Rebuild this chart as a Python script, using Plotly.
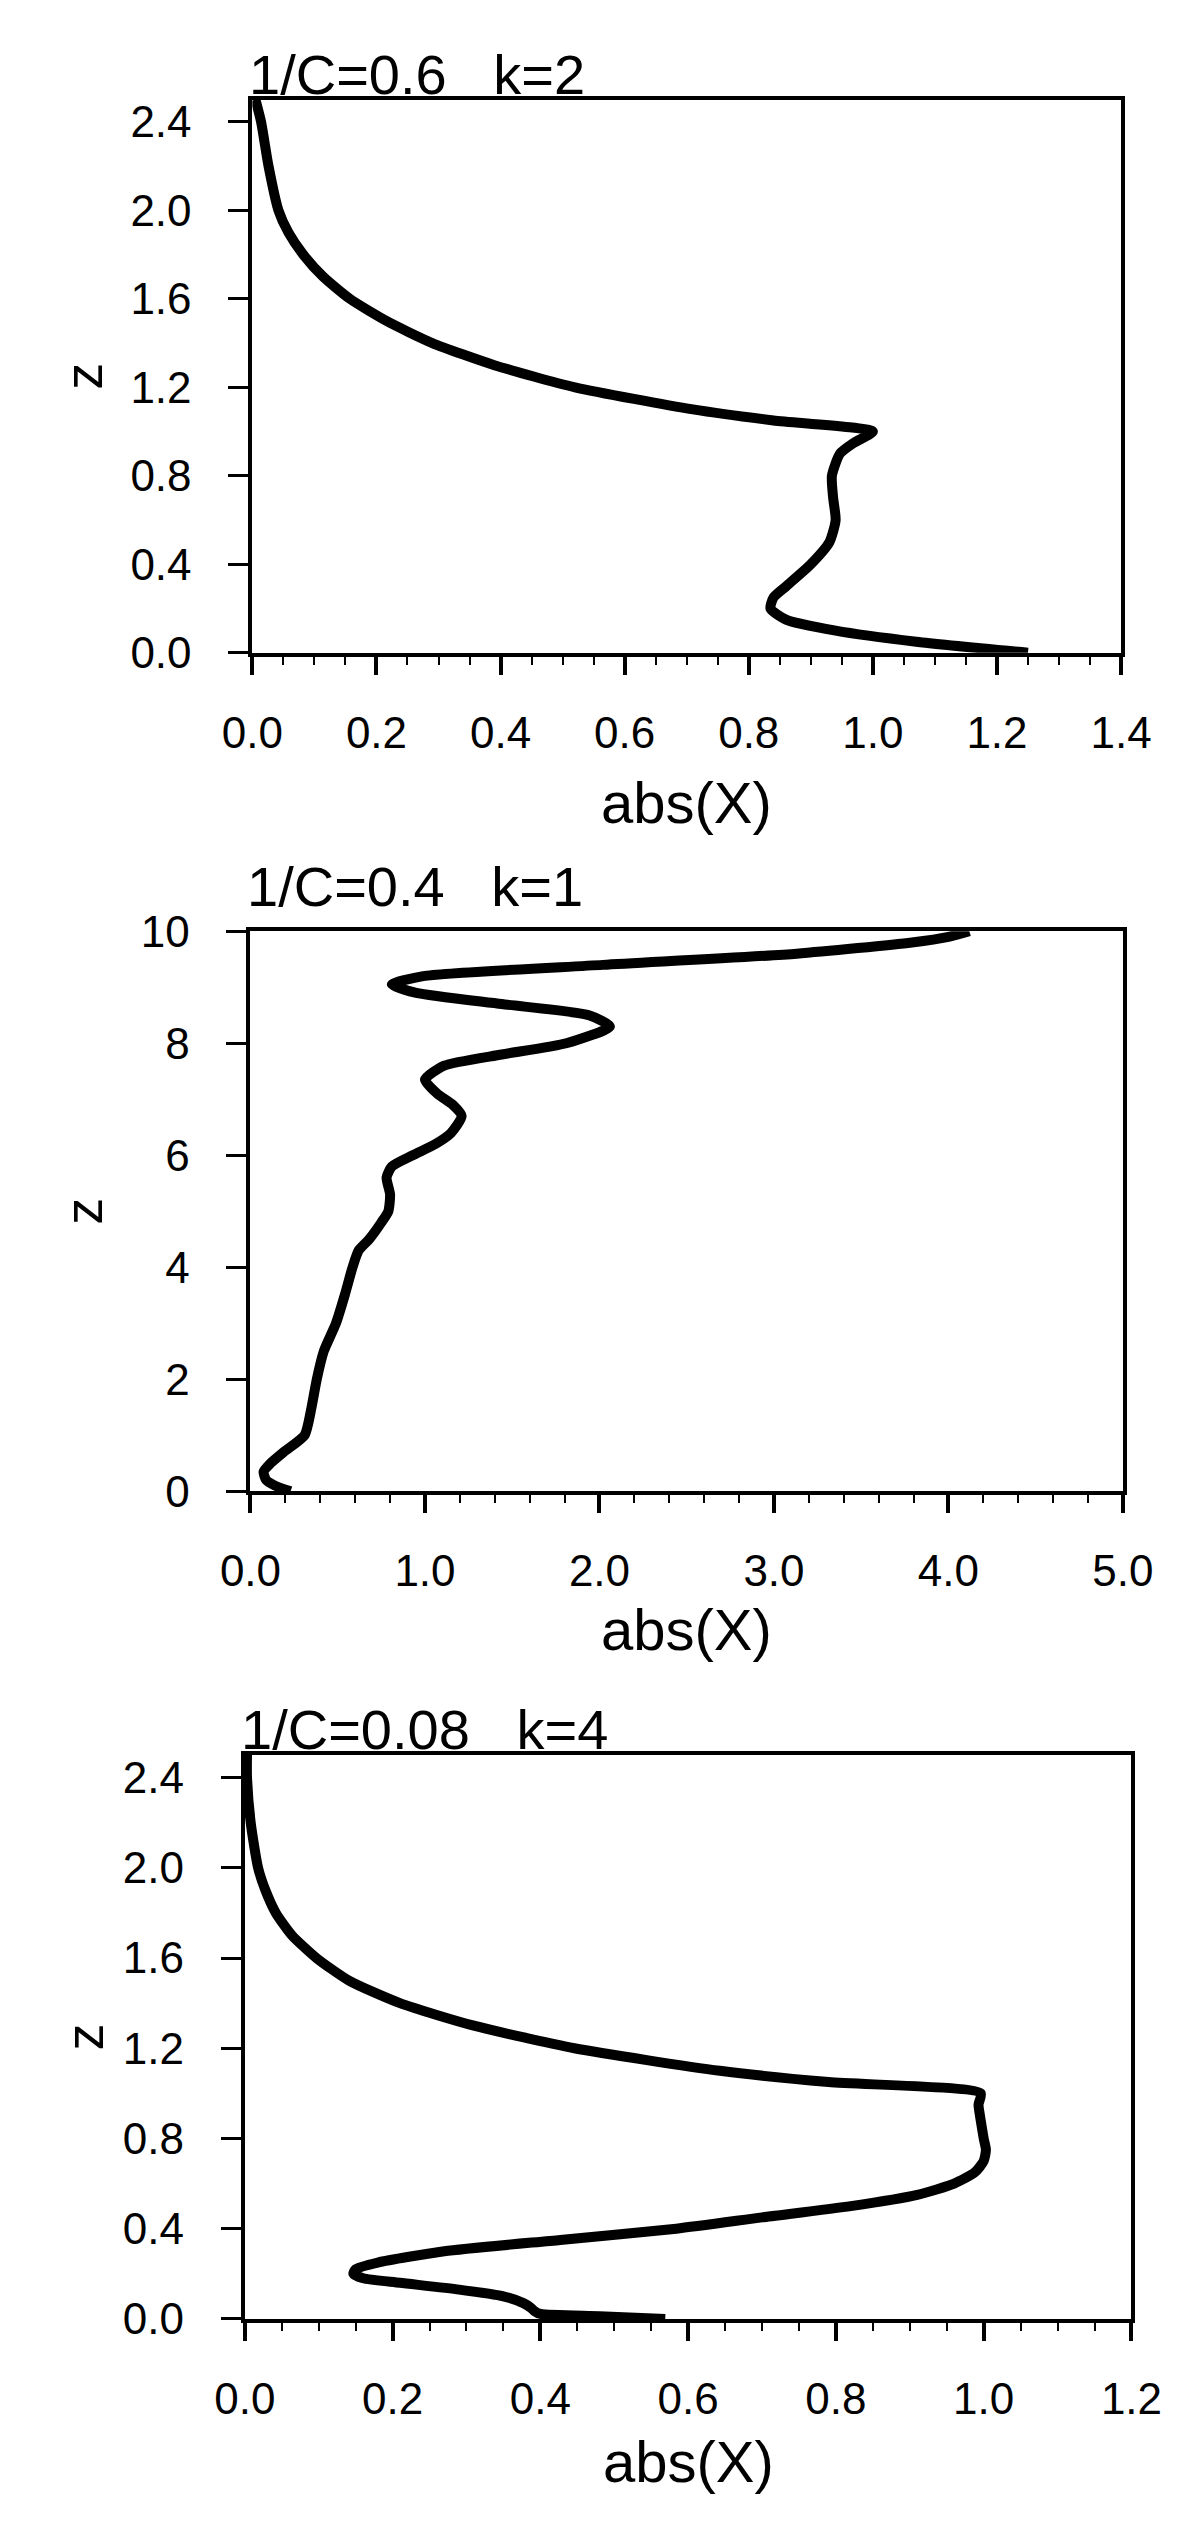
import plotly.graph_objects as go

W, H = 1200, 2533

# panel 1: 1/C=0.6, k=2
z1 = [2.5, 2.4, 2.2, 2.0, 1.9, 1.8, 1.7, 1.6, 1.5, 1.4, 1.3, 1.2, 1.1, 1.05, 1.0,
      0.95, 0.9, 0.8, 0.7, 0.6, 0.5, 0.4, 0.3, 0.25, 0.2, 0.15, 0.1, 0.05, 0.0]
x1 = [0.005, 0.014, 0.026, 0.042, 0.058, 0.082, 0.114, 0.157, 0.216, 0.29, 0.39, 0.52, 0.71, 0.84, 1.0,
      0.97, 0.947, 0.934, 0.936, 0.94, 0.93, 0.90, 0.86, 0.84, 0.835, 0.86, 0.94, 1.07, 1.25]

# panel 2: 1/C=0.4, k=1
z2 = [0.0, 0.1, 0.2, 0.35, 0.5, 0.7, 1.0, 1.5, 2.0, 2.5, 3.0, 3.5, 4.0, 4.3, 4.5, 4.8,
      5.0, 5.3, 5.6, 5.8, 6.0, 6.2, 6.4, 6.7, 6.9, 7.1, 7.35, 7.6, 7.8, 8.0, 8.3, 8.5,
      8.7, 8.9, 9.05, 9.2, 9.4, 9.6, 9.8, 9.9, 10.0]
x2 = [0.23, 0.14, 0.09, 0.075, 0.115, 0.19, 0.31, 0.35, 0.38, 0.42, 0.49, 0.54, 0.585, 0.62, 0.68, 0.75,
      0.79, 0.80, 0.78, 0.81, 0.93, 1.06, 1.15, 1.21, 1.16, 1.07, 1.0, 1.11, 1.44, 1.81, 2.06, 1.94,
      1.44, 0.95, 0.81, 0.99, 2.02, 3.13, 3.79, 4.0, 4.12]

# panel 3: 1/C=0.08, k=4
z3 = [2.5, 2.4, 2.2, 2.0, 1.9, 1.8, 1.7, 1.6, 1.5, 1.4, 1.3, 1.2, 1.1, 1.05, 1.0,
      0.95, 0.9, 0.8, 0.75, 0.7, 0.65, 0.6, 0.55, 0.5, 0.45, 0.4, 0.35, 0.3, 0.25,
      0.22, 0.2, 0.18, 0.16, 0.13, 0.1, 0.07, 0.05, 0.035, 0.022, 0.012, 0.0]
x3 = [0.003, 0.003, 0.008, 0.018, 0.028, 0.042, 0.064, 0.097, 0.141, 0.21, 0.31, 0.446, 0.643, 0.79, 0.996,
      0.993, 0.995, 1.0, 1.003, 1.0, 0.988, 0.96, 0.91, 0.82, 0.70, 0.584, 0.427, 0.27, 0.18,
      0.15, 0.147, 0.16, 0.21, 0.29, 0.35, 0.377, 0.387, 0.392, 0.40, 0.48, 0.569]

titles = ["1/C=0.6\u00a0\u00a0\u00a0k=2", "1/C=0.4\u00a0\u00a0\u00a0k=1", "1/C=0.08\u00a0\u00a0\u00a0k=4"]
xranges = [[0, 1.4], [0, 5.0], [0, 1.2]]
yranges = [[0, 2.5], [0, 10], [0, 2.5]]
xdticks = [0.2, 1.0, 0.2]
xminor = [0.05, 0.2, 0.05]
ydticks = [0.4, 2, 0.4]
yformats = [".1f", "d", ".1f"]

# pixel boxes of the three frames: left, right, top, bottom
boxes = [(225, 1141, 68, 632), (223, 1143, 916, 1487), (217, 1152, 1756, 2331)]
xlab_y = [785, 1628, 2476]
title_y = [42, 870, 1730]

FONT = "Liberation Sans, Arial, Helvetica, sans-serif"

fig = go.Figure()
data = [(x1, z1), (x2, z2), (x3, z3)]
for i, (xs, zs) in enumerate(data):
    n = "" if i == 0 else str(i + 1)
    fig.add_trace(go.Scatter(x=xs, y=zs, mode="lines", xaxis="x" + n, yaxis="y" + n,
                             line=dict(color="black", width=10, shape="spline", smoothing=0.6),
                             showlegend=False))

    l, r, t, b = boxes[i]
    xd = [l / W, r / W]
    yd = [1 - b / H, 1 - t / H]
    fig.layout["xaxis" + n] = dict(
        domain=xd, range=xranges[i], anchor="y" + n, dtick=xdticks[i], tick0=0,
        tickformat=".1f", ticks="outside", ticklen=18, tickwidth=4, tickcolor="black",
        showline=True, linewidth=4, linecolor="black", mirror=True,
        showgrid=False, zeroline=False, ticklabelstandoff=20,
        tickfont=dict(family=FONT, size=44, color="black"),
        minor=dict(dtick=xminor[i], tick0=0, ticks="outside", ticklen=8, tickwidth=2,
                   tickcolor="black", showgrid=False),
    )
    fig.layout["yaxis" + n] = dict(
        domain=yd, range=yranges[i], anchor="x" + n, dtick=ydticks[i], tick0=0,
        tickformat=yformats[i], ticks="outside", ticklen=20, tickwidth=3, tickcolor="black",
        showline=True, linewidth=4, linecolor="black", mirror=True,
        showgrid=False, zeroline=False, ticklabelstandoff=28,
        tickfont=dict(family=FONT, size=44, color="black"),
    )

    fig.add_annotation(text=titles[i], xref="paper", yref="paper", x=(l - 6) / W,
                       y=1 - title_y[i] / H, xanchor="left", yanchor="middle",
                       showarrow=False, font=dict(family=FONT, size=56, color="black"))
    fig.add_annotation(text="abs(X)", xref="paper", yref="paper", x=(l + r) / 2 / W,
                       y=1 - xlab_y[i] / H, xanchor="center", yanchor="middle",
                       showarrow=False, font=dict(family=FONT, size=58, color="black"))
    fig.add_annotation(text="z", xref="paper", yref="paper", x=47 / W,
                       y=1 - (t + b) / 2 / H, xanchor="center", yanchor="middle",
                       textangle=-90, showarrow=False,
                       font=dict(family=FONT, size=54, color="black"))

fig.update_layout(width=W, height=H, margin=dict(l=0, r=0, t=0, b=0),
                  paper_bgcolor="white", plot_bgcolor="white")

fig.write_html("out.html")
